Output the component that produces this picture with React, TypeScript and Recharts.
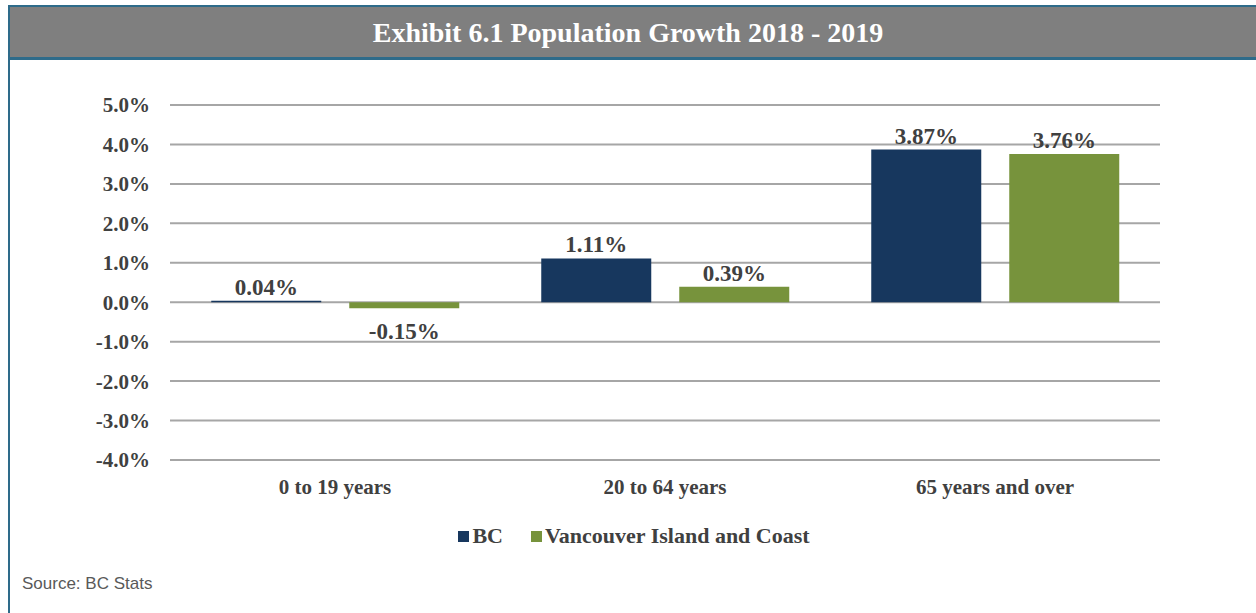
import React from 'react';
import { BarChart, Bar, XAxis, YAxis, CartesianGrid, Legend, LabelList } from 'recharts';

const ageGroups = ['0 to 19 years', '20 to 64 years', '65 years and over'];
const bcGrowth = [0.04, 1.11, 3.87];
const vicGrowth = [-0.15, 0.39, 3.76];
const yTicks = [-4, -3, -2, -1, 0, 1, 2, 3, 4, 5];

const data = ageGroups.map((group, i) => ({ group, bc: bcGrowth[i], vic: vicGrowth[i] }));

const FONT = '"Liberation Serif", "DejaVu Serif", serif';
const TEXT = '#404040';
const NAVY = '#17375e';
const GREEN = '#77933c';
const FRAME = '#2e6b8a';

const ValueLabel = (props: any) => {
  const { x, y, width, height, value } = props;
  const cx = x + width / 2;
  const neg = value < 0;
  const top = Math.min(y, y + height);
  const bottom = Math.max(y, y + height);
  return (
    <text
      x={cx}
      y={neg ? bottom + 31 : top - 6}
      textAnchor="middle"
      fontFamily={FONT}
      fontWeight="bold"
      fontSize={23}
      fill={TEXT}
    >
      {value.toFixed(2)}%
    </text>
  );
};

const LegendContent = () => (
  <div style={{ display: 'flex', justifyContent: 'center', fontFamily: FONT, fontWeight: 'bold', fontSize: 22, color: TEXT, paddingLeft: 12 }}>
    <span style={{ display: 'flex', alignItems: 'center', marginRight: 28 }}>
      <span style={{ width: 11, height: 11, background: NAVY, marginRight: 3 }} />
      BC
    </span>
    <span style={{ display: 'flex', alignItems: 'center' }}>
      <span style={{ width: 11, height: 11, background: GREEN, marginRight: 3 }} />
      Vancouver Island and Coast
    </span>
  </div>
);

export default function App() {
  return (
    <div style={{ position: 'absolute', left: 0, top: 0, width: 1256, height: 613, background: '#fff', overflow: 'hidden' }}>
      {/* frame */}
      <div style={{ position: 'absolute', left: 8, top: 5, width: 2, height: 613, background: FRAME }} />
      <div style={{ position: 'absolute', left: 8, top: 5, width: 1248, height: 2, background: FRAME }} />
      <div style={{ position: 'absolute', left: 10, top: 7, width: 1246, height: 50, background: '#7f7f7f' }} />
      <div style={{ position: 'absolute', left: 8, top: 57, width: 1248, height: 3, background: FRAME }} />
      <div
        style={{
          position: 'absolute', left: 0, top: 7, width: 1256, height: 50, lineHeight: '52px',
          textAlign: 'center', color: '#fff', fontFamily: FONT, fontWeight: 'bold', fontSize: 28,
        }}
      >
        Exhibit 6.1 Population Growth 2018 - 2019
      </div>

      <div style={{ position: 'absolute', left: 0, top: 0 }}>
        <BarChart
          width={1256}
          height={613}
          data={data}
          margin={{ top: 105, right: 96, left: 0, bottom: 123 }}
          barCategoryGap="12.5%"
          barGap={28}
        >
          <CartesianGrid horizontal vertical={false} stroke="#a6a6a6" strokeWidth={2} />
          <XAxis
            dataKey="group"
            axisLine={false}
            tickLine={false}
            tickSize={0}
            tickMargin={19}
            height={30}
            tick={{ fontFamily: FONT, fontWeight: 'bold', fontSize: 21, fill: TEXT }}
          />
          <YAxis
            width={170}
            domain={[-4, 5]}
            ticks={yTicks}
            axisLine={false}
            tickLine={false}
            tickSize={0}
            tickMargin={20}
            tickFormatter={(v: number) => `${v.toFixed(1)}%`}
            tick={{ fontFamily: FONT, fontWeight: 'bold', fontSize: 21, fill: TEXT }}
          />
          <Legend
            layout="horizontal"
            verticalAlign="middle"
            align="center"
            content={<LegendContent />}
            wrapperStyle={{ top: 523, left: 0, width: 1256 }}
          />
          <Bar dataKey="bc" name="BC" fill={NAVY} isAnimationActive={false}>
            <LabelList dataKey="bc" content={<ValueLabel />} />
          </Bar>
          <Bar dataKey="vic" name="Vancouver Island and Coast" fill={GREEN} isAnimationActive={false}>
            <LabelList dataKey="vic" content={<ValueLabel />} />
          </Bar>
        </BarChart>
      </div>

      <div style={{ position: 'absolute', left: 22, top: 574, fontFamily: '"Liberation Sans", sans-serif', fontSize: 17, color: '#595959' }}>
        Source: BC Stats
      </div>
    </div>
  );
}
